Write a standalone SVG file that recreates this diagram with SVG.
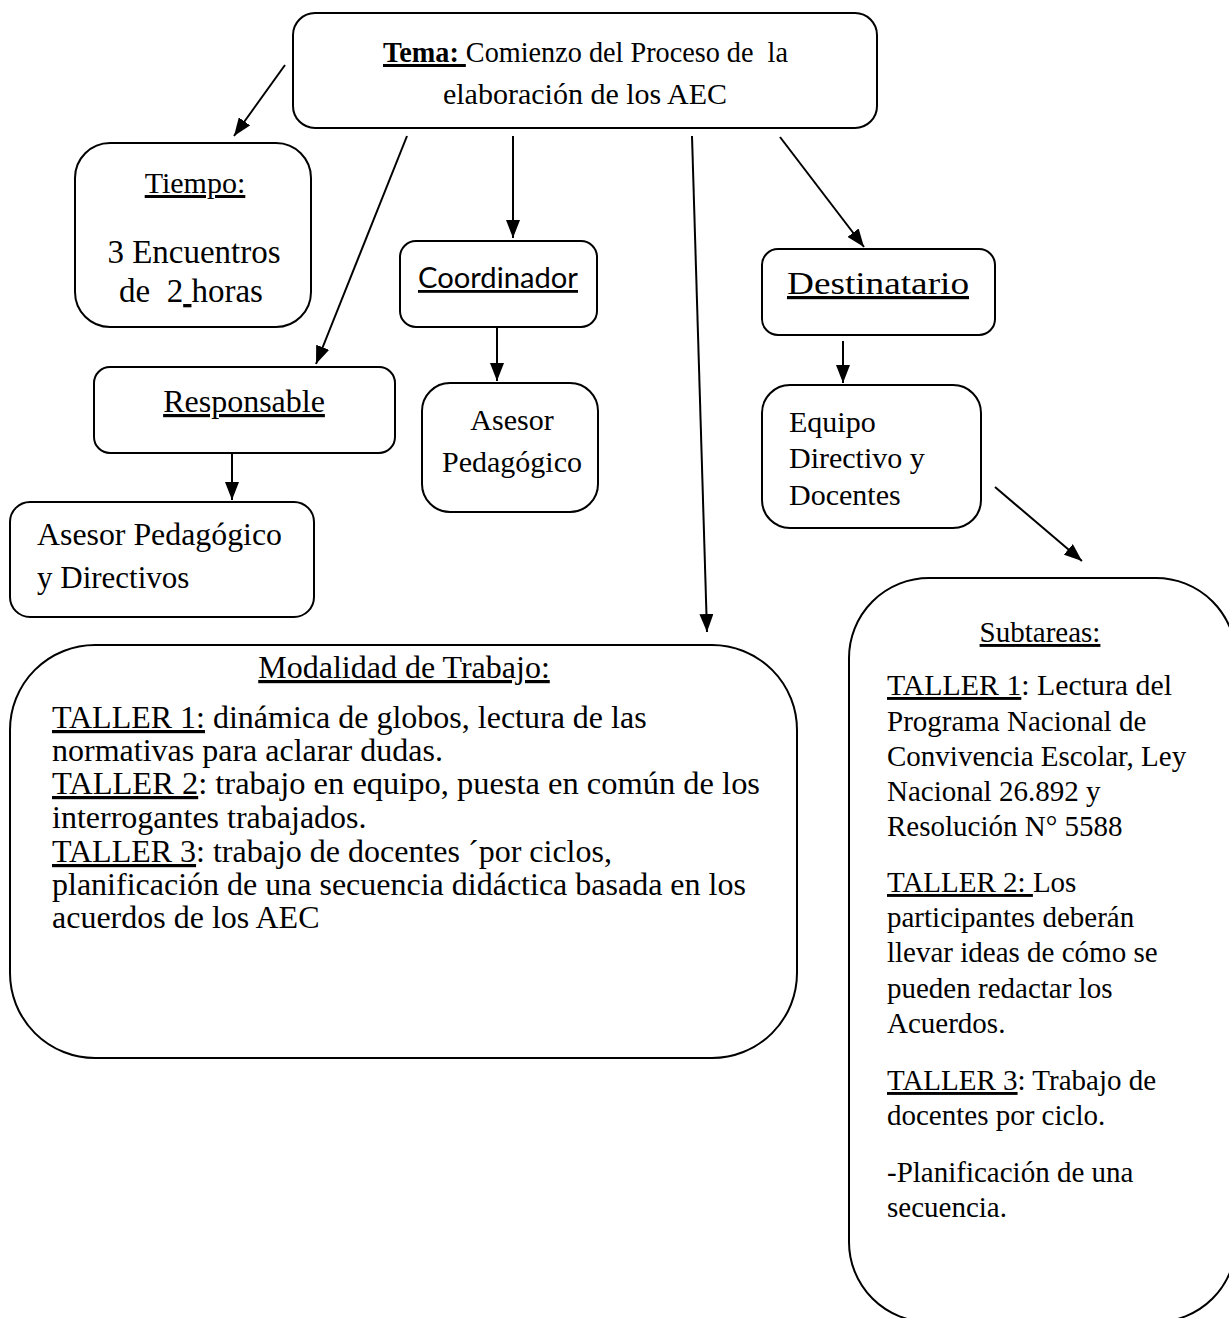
<svg xmlns="http://www.w3.org/2000/svg" width="1229" height="1318" viewBox="0 0 1229 1318">
<style>
.box{fill:#fff;stroke:#000;stroke-width:2}
.t{font-family:"Liberation Serif","Times New Roman",serif;font-size:30px;fill:#000;white-space:pre}
.s{font-family:Lato,"Liberation Sans",sans-serif;font-size:28px;fill:#000}
.u{text-decoration:underline}
.b{font-weight:bold}
.m{font-size:32px}
.q{font-size:29px}
.c{stroke:#000;stroke-width:2;fill:none;marker-end:url(#ah)}
</style>
<defs>
<marker id="ah" viewBox="0 0 18 14" markerWidth="18" markerHeight="14" refX="18" refY="7" orient="auto" markerUnits="userSpaceOnUse">
<path d="M0,0 L18,7 L0,14 z" fill="#000"/>
</marker>
</defs>
<rect width="1229" height="1318" fill="#fff"/>
<g id="connectors">
<line class="c" x1="285" y1="65" x2="234" y2="136"/>
<line class="c" x1="407" y1="136" x2="316" y2="364"/>
<line class="c" x1="513" y1="136" x2="513" y2="238"/>
<line class="c" x1="692" y1="136" x2="707" y2="632"/>
<line class="c" x1="780" y1="137" x2="864" y2="247"/>
<line class="c" x1="497" y1="327" x2="497" y2="381"/>
<line class="c" x1="843" y1="341" x2="843" y2="383"/>
<line class="c" x1="232" y1="453" x2="232" y2="500"/>
<line class="c" x1="995" y1="487" x2="1082" y2="561"/>
</g>
<g id="tema">
<rect class="box" x="293" y="13" width="584" height="115" rx="22"/>
<text class="t" x="383" y="62" textLength="405" lengthAdjust="spacingAndGlyphs"><tspan class="u b">Tema: </tspan>Comienzo del Proceso de  la</text>
<text class="t" x="585" y="104" text-anchor="middle">elaboración de los AEC</text>
</g>
<g id="tiempo">
<rect class="box" x="75" y="143" width="236" height="184" rx="35"/>
<text class="t" x="195" y="193" text-anchor="middle"><tspan class="u">Tiempo:</tspan></text>
<text class="t" x="194" y="263" text-anchor="middle" style="font-size:33px">3 Encuentros</text>
<text class="t" x="191" y="302" text-anchor="middle" style="font-size:33px">de  2<tspan class="u"> </tspan>horas</text>
</g>
<g id="coordinador">
<rect class="box" x="400" y="241" width="197" height="86" rx="16"/>
<text class="s" x="418" y="288" textLength="160" lengthAdjust="spacingAndGlyphs"><tspan class="u">Coordinador</tspan></text>
</g>
<g id="destinatario">
<rect class="box" x="762" y="249" width="233" height="86" rx="16"/>
<text class="t" x="787" y="294" style="font-size:32px" textLength="182" lengthAdjust="spacingAndGlyphs"><tspan class="u">Destinatario</tspan></text>
</g>
<g id="responsable">
<rect class="box" x="94" y="367" width="301" height="86" rx="16"/>
<text class="t" x="244" y="412" text-anchor="middle" style="font-size:32px"><tspan class="u">Responsable</tspan></text>
</g>
<g id="asesor">
<rect class="box" x="422" y="383" width="176" height="129" rx="28"/>
<text class="t" x="512" y="430" text-anchor="middle">Asesor</text>
<text class="t" x="512" y="472" text-anchor="middle">Pedagógico</text>
</g>
<g id="equipo">
<rect class="box" x="762" y="385" width="219" height="143" rx="28"/>
<text class="t" x="789" y="432">Equipo</text>
<text class="t" x="789" y="468">Directivo y</text>
<text class="t" x="789" y="505">Docentes</text>
</g>
<g id="asesor-directivos">
<rect class="box" x="10" y="502" width="304" height="115" rx="20"/>
<text class="t" x="37" y="545" style="font-size:31px" textLength="245" lengthAdjust="spacingAndGlyphs">Asesor Pedagógico</text>
<text class="t" x="37" y="588" style="font-size:31px">y Directivos</text>
</g>
<g id="modalidad">
<rect class="box" x="10" y="645" width="787" height="413" rx="85"/>
<text class="t m" x="404" y="678" text-anchor="middle"><tspan class="u">Modalidad de Trabajo:</tspan></text>
<text class="t m" x="52" y="728"><tspan class="u">TALLER 1:</tspan> dinámica de globos, lectura de las</text>
<text class="t m" x="52" y="761">normativas para aclarar dudas.</text>
<text class="t m" x="52" y="794" textLength="708" lengthAdjust="spacingAndGlyphs"><tspan class="u">TALLER 2</tspan>: trabajo en equipo, puesta en común de los</text>
<text class="t m" x="52" y="828">interrogantes trabajados.</text>
<text class="t m" x="52" y="862"><tspan class="u">TALLER 3</tspan>: trabajo de docentes ´por ciclos,</text>
<text class="t m" x="52" y="895">planificación de una secuencia didáctica basada en los</text>
<text class="t m" x="52" y="928">acuerdos de los AEC</text>
</g>
<g id="subtareas">
<rect class="box" x="849" y="578" width="387" height="744" rx="80"/>
<text class="t q" x="1040" y="642" text-anchor="middle"><tspan class="u">Subtareas:</tspan></text>
<text class="t q" x="887" y="695" textLength="285" lengthAdjust="spacingAndGlyphs"><tspan class="u">TALLER 1</tspan>: Lectura del</text>
<text class="t q" x="887" y="731">Programa Nacional de</text>
<text class="t q" x="887" y="766">Convivencia Escolar, Ley</text>
<text class="t q" x="887" y="801">Nacional 26.892 y</text>
<text class="t q" x="887" y="836">Resolución N° 5588</text>
<text class="t q" x="887" y="892"><tspan class="u">TALLER 2: </tspan>Los</text>
<text class="t q" x="887" y="927">participantes deberán</text>
<text class="t q" x="887" y="962">llevar ideas de cómo se</text>
<text class="t q" x="887" y="998">pueden redactar los</text>
<text class="t q" x="887" y="1033">Acuerdos.</text>
<text class="t q" x="887" y="1090"><tspan class="u">TALLER 3</tspan>: Trabajo de</text>
<text class="t q" x="887" y="1125">docentes por ciclo.</text>
<text class="t q" x="887" y="1182">-Planificación de una</text>
<text class="t q" x="887" y="1217">secuencia.</text>
</g>
</svg>
